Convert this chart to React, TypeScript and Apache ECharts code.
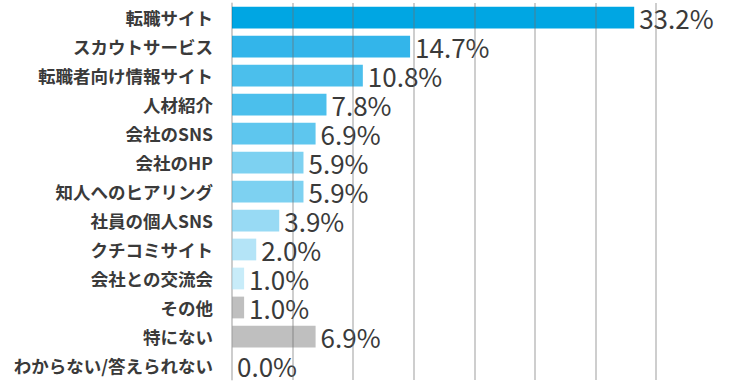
import React, { useEffect, useRef } from "react";
import * as echarts from "echarts";

const categories = [
  "転職サイト",
  "スカウトサービス",
  "転職者向け情報サイト",
  "人材紹介",
  "会社のSNS",
  "会社のHP",
  "知人へのヒアリング",
  "社員の個人SNS",
  "クチコミサイト",
  "会社との交流会",
  "その他",
  "特にない",
  "わからない/答えられない",
];
const values = [33.2, 14.7, 10.8, 7.8, 6.9, 5.9, 5.9, 3.9, 2.0, 1.0, 1.0, 6.9, 0.0];
const barColors = [
  "#00A6E3",
  "#33B5EA",
  "#4BBFEC",
  "#4BBFEC",
  "#5EC6EE",
  "#7DD1F1",
  "#7DD1F1",
  "#98DAF4",
  "#B4E4F7",
  "#C8ECF9",
  "#BFBFBF",
  "#BFBFBF",
  "#BFBFBF",
];
const axisMax = 35;
const axisInterval = 5;

export default function App() {
  const ref = useRef<HTMLDivElement>(null);
  useEffect(() => {
    if (!ref.current) return;
    const chart = echarts.init(ref.current, null, { renderer: "svg" });
    const font = "'Noto Sans CJK JP', 'Noto Sans', sans-serif";
    chart.setOption({
      animation: false,
      grid: { left: 232, right: 94, top: 3, bottom: 12, containLabel: false },
      xAxis: {
        type: "value",
        min: 0,
        max: axisMax,
        interval: axisInterval,
        z: 3,
        axisLabel: { show: false },
        axisTick: { show: false },
        axisLine: { show: false },
        splitLine: {
          show: true,
          lineStyle: {
            width: 1.5,
            color: [
              "rgba(0,0,0,0.12)",
              "rgba(110,110,110,0.45)",
              "rgba(110,110,110,0.45)",
              "rgba(110,110,110,0.45)",
              "rgba(110,110,110,0.45)",
              "rgba(110,110,110,0.45)",
              "rgba(110,110,110,0.45)",
              "rgba(110,110,110,0.45)",
            ],
          },
        },
      },
      yAxis: {
        type: "category",
        data: categories,
        inverse: true,
        axisTick: { show: false },
        axisLine: { show: true, lineStyle: { color: "#D9D9D9", width: 1.5 } },
        axisLabel: {
          margin: 19,
          color: "#3A3A3A",
          fontSize: 17.5,
          fontWeight: "bold",
          fontFamily: font,
        },
      },
      series: [
        {
          type: "bar",
          data: values.map((v, i) => ({
            value: v,
            itemStyle: { color: barColors[i] },
          })),
          barCategoryGap: "25%",
          label: {
            show: true,
            position: "right",
            distance: 5,
            formatter: (p: any) => p.value.toFixed(1) + "%",
            color: "#3A3A3A",
            fontSize: 26,
            fontFamily: font,
          },
        },
      ],
    });
    return () => chart.dispose();
  }, []);
  return <div ref={ref} style={{ width: 750, height: 392, position: "absolute", left: 0, top: 0 }} />;
}
